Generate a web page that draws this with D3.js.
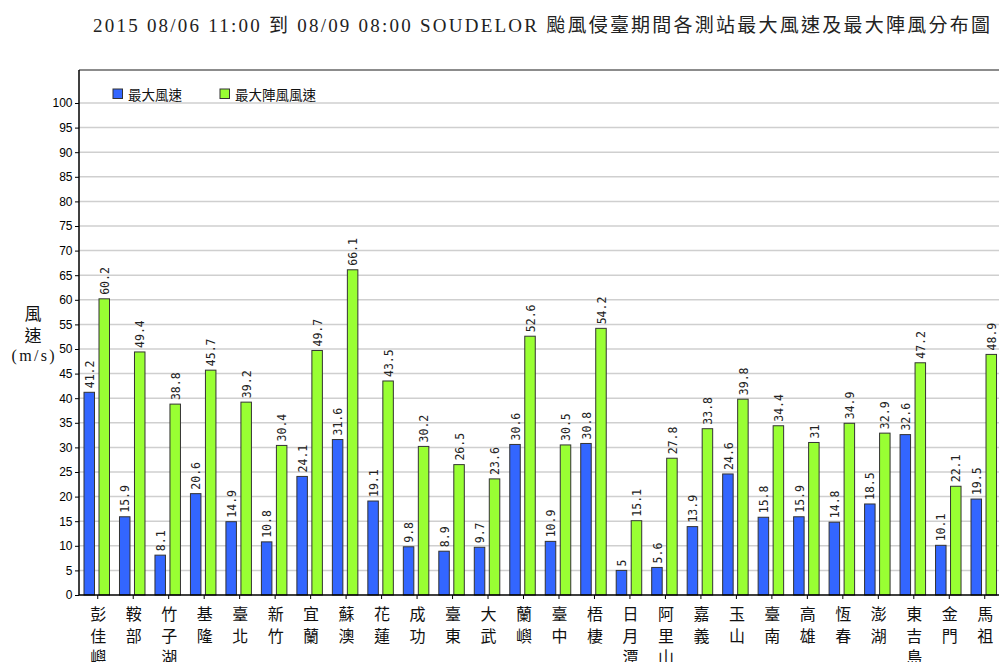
<!DOCTYPE html>
<html>
<head>
<meta charset="utf-8">
<script src="https://cdn.jsdelivr.net/npm/d3@7"></script>
<style>
  html, body { margin: 0; padding: 0; background: #fff; }
  svg { display: block; }
</style>
</head>
<body>
<svg id="chart" width="999" height="662"></svg>
<script>
// ---------------- DATA ----------------
const categories = ["彭佳嶼","鞍部","竹子湖","基隆","臺北","新竹","宜蘭","蘇澳","花蓮","成功","臺東","大武","蘭嶼","臺中","梧棲","日月潭","阿里山","嘉義","玉山","臺南","高雄","恆春","澎湖","東吉島","金門","馬祖"];
const maxWind = [41.2,15.9,8.1,20.6,14.9,10.8,24.1,31.6,19.1,9.8,8.9,9.7,30.6,10.9,30.8,5,5.6,13.9,24.6,15.8,15.9,14.8,18.5,32.6,10.1,19.5];
const maxGust = [60.2,49.4,38.8,45.7,39.2,30.4,49.7,66.1,43.5,30.2,26.5,23.6,52.6,30.5,54.2,15.1,27.8,33.8,39.8,34.4,31,34.9,32.9,47.2,22.1,48.9];
const seriesNames = ["最大風速","最大陣風風速"];
const seriesColors = ["#3366ff","#99ff33"];
const yTickValues = [0,5,10,15,20,25,30,35,40,45,50,55,60,65,70,75,80,85,90,95,100];
const titleText = "2015 08/06 11:00 到 08/09 08:00 SOUDELOR 颱風侵臺期間各測站最大風速及最大陣風分布圖";
const yTitleLines = ["風","速","(m/s)"];

// ---------------- LAYOUT ----------------
const svg = d3.select("#chart");
const plotLeft = 79, plotRight = 1001.5, plotTop = 70, plotBottom = 595;
const yTopVal = 100, yTopPx = 103;

const x0 = d3.scaleBand().domain(categories).range([plotLeft, plotRight]).padding(0);
const x1 = d3.scaleBand().domain([0,1]).range([5, 30.5]).paddingInner(0.3).paddingOuter(0);
const y = d3.scaleLinear().domain([0, yTopVal]).range([plotBottom, yTopPx]);

const cjk = "'Noto Sans CJK TC', 'Noto Sans CJK SC', sans-serif";

// Title
svg.append("text")
  .attr("x", 93).attr("y", 32)
  .attr("font-family", "'Liberation Serif', 'Noto Sans CJK TC', serif")
  .attr("font-size", 19)
  .attr("fill", "#222")
  .attr("textLength", 897)
  .attr("lengthAdjust", "spacing")
  .text(titleText);

// Gridlines
svg.append("g").selectAll("line")
  .data(yTickValues.filter(v => v > 0))
  .join("line")
  .attr("x1", plotLeft).attr("x2", 999)
  .attr("y1", d => y(d)).attr("y2", d => y(d))
  .attr("stroke", "#cfcfcf").attr("stroke-width", 1.5);

// Top frame
svg.append("line")
  .attr("x1", plotLeft).attr("x2", 999).attr("y1", plotTop).attr("y2", plotTop)
  .attr("stroke", "#666").attr("stroke-width", 1.5);

// Bars
const groups = svg.append("g").selectAll("g")
  .data(categories.map((c, i) => ({c, vals: [maxWind[i], maxGust[i]]})))
  .join("g")
  .attr("transform", d => `translate(${x0(d.c)},0)`);

groups.selectAll("rect")
  .data(d => d.vals.map((v, k) => ({v, k})))
  .join("rect")
  .attr("x", d => x1(d.k))
  .attr("width", x1.bandwidth())
  .attr("y", d => y(d.v))
  .attr("height", d => y(0) - y(d.v))
  .attr("fill", d => seriesColors[d.k])
  .attr("stroke", "#333")
  .attr("stroke-width", 1);

// Value labels
groups.selectAll("text.val")
  .data(d => d.vals.map((v, k) => ({v, k})))
  .join("text")
  .attr("class", "val")
  .attr("transform", d => `translate(${x1(d.k) + x1.bandwidth()/2 + 0.5},${y(d.v) - 4}) rotate(-90)`)
  .attr("dy", "0.36em")
  .attr("font-family", "'DejaVu Sans Mono', monospace")
  .attr("font-size", 11.5)
  .attr("fill", "#222")
  .text(d => String(d.v));

// Y axis
const yAxis = d3.axisLeft(y).tickValues(yTickValues).tickSize(4).tickPadding(2.5);
const yg = svg.append("g").attr("transform", `translate(${plotLeft},0)`).call(yAxis);
yg.select(".domain").attr("d", `M0,${plotTop}V${plotBottom}`).attr("stroke", "#000").attr("stroke-width", 1.5);
yg.selectAll(".tick line").attr("stroke", "#000");
yg.selectAll(".tick text")
  .attr("font-family", "'Liberation Sans Narrow', 'Liberation Sans', sans-serif")
  .attr("font-size", 12).attr("fill", "#000");

// X axis
const xg = svg.append("g").attr("transform", `translate(0,${plotBottom})`);
xg.append("line").attr("x1", plotLeft).attr("x2", 999).attr("y1", 0).attr("y2", 0)
  .attr("stroke", "#000").attr("stroke-width", 1.5);
xg.selectAll("line.tick")
  .data(categories).join("line").attr("class", "tick")
  .attr("x1", d => x0(d) + x0.bandwidth()/2 + 1).attr("x2", d => x0(d) + x0.bandwidth()/2 + 1)
  .attr("y1", 0).attr("y2", 4).attr("stroke", "#000");

const xl = svg.append("g").selectAll("text")
  .data(categories).join("text")
  .attr("font-family", cjk).attr("font-size", 16).attr("fill", "#111")
  .attr("text-anchor", "middle");
xl.each(function(d) {
  const t = d3.select(this);
  Array.from(d).forEach((ch, k) => {
    t.append("tspan")
      .attr("x", x0(d) + x0.bandwidth()/2 + 1.5)
      .attr("y", 613 + k * 21.5)
      .attr("dominant-baseline", "central")
      .text(ch);
  });
});

// Y axis title
const yt = svg.append("g");
yt.append("text").attr("x", 33).attr("y", 312.5).attr("text-anchor", "middle")
  .attr("dominant-baseline", "central").attr("font-family", cjk).attr("font-size", 17)
  .attr("fill", "#111").text(yTitleLines[0]);
yt.append("text").attr("x", 33).attr("y", 334).attr("text-anchor", "middle")
  .attr("dominant-baseline", "central").attr("font-family", cjk).attr("font-size", 17)
  .attr("fill", "#111").text(yTitleLines[1]);
yt.append("text").attr("x", 33).attr("y", 355).attr("text-anchor", "middle")
  .attr("dominant-baseline", "central").attr("font-family", "'Liberation Serif', serif").attr("font-size", 16)
  .attr("textLength", 43).attr("lengthAdjust", "spacing")
  .attr("fill", "#111").text(yTitleLines[2]);

// Legend
const legendX = [113, 220];
const lg = svg.append("g").selectAll("g")
  .data(seriesNames).join("g")
  .attr("transform", (d, i) => `translate(${legendX[i]},89)`);
lg.append("rect").attr("width", 9.5).attr("height", 9.5)
  .attr("fill", (d, i) => seriesColors[i]).attr("stroke", "#333").attr("stroke-width", 1);
lg.append("text").attr("x", 15).attr("y", 5).attr("dominant-baseline", "central")
  .attr("font-family", cjk).attr("font-size", 13.5).attr("fill", "#111")
  .text(d => d);
</script>
</body>
</html>
